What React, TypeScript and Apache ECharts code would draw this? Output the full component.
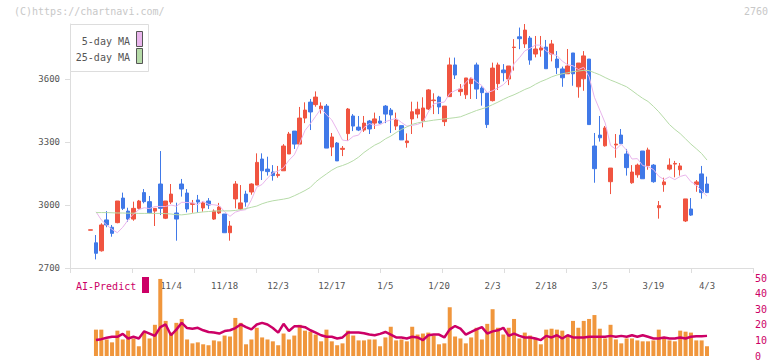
import React, { useEffect, useRef } from 'react';
import * as echarts from 'echarts';

// Candles (index 0 = first visible session, last = 4/3)
const opens = [
  2880, 2820, 2782, 2929, 2894, 2916, 3033, 2971, 2933, 2984,
  3059, 3016, 2971, 3100, 2937, 3014, 2962, 3100, 3057, 3003,
  3024, 2986, 3019, 2933, 2962, 2957, 2868, 3029, 2981, 3052,
  3062, 3095, 3219, 3171, 3157, 3140, 3163, 3243, 3352, 3290,
  3414, 3490, 3478, 3457, 3471, 3276, 3295, 3265, 3340, 3424,
  3371, 3357, 3400, 3390, 3400, 3471, 3452, 3376, 3378, 3297,
  3410, 3433, 3401, 3457, 3497, 3514, 3397, 3516, 3667, 3540,
  3525, 3578, 3667, 3557, 3533, 3497, 3578, 3643, 3600, 3750,
  3801, 3767, 3795, 3719, 3738, 3752, 3719, 3695, 3648, 3625,
  3724, 3563, 3601, 3695, 3281, 3333, 3282, 3111, 3286, 3333,
  3243, 3106, 3144, 3257, 3187, 3190, 2987, 3097, 3171, 3195,
  3168, 2924, 2981, 3097, 3148, 3100,
];
const closes = [
  2882, 2770, 2905, 2905, 2865, 3019, 2984, 2933, 2984, 3019,
  3016, 2963, 2984, 2984, 3019, 3052, 2933, 3076, 2981, 3008,
  3014, 3010, 3000, 2971, 2990, 2868, 2900, 3100, 3010, 3014,
  3100, 3203, 3163, 3159, 3140, 3146, 3281, 3338, 3290, 3414,
  3452, 3443, 3514, 3471, 3271, 3324, 3210, 3270, 3457, 3376,
  3357, 3390, 3362, 3410, 3390, 3433, 3429, 3405, 3310, 3305,
  3444, 3456, 3462, 3548, 3500, 3467, 3471, 3667, 3619, 3552,
  3605, 3600, 3552, 3535, 3383, 3652, 3667, 3630, 3662, 3752,
  3792, 3833, 3690, 3743, 3748, 3649, 3767, 3654, 3606, 3662,
  3625, 3676, 3710, 3383, 3173, 3320, 3367, 3176, 3290, 3292,
  3178, 3157, 3190, 3125, 3262, 3111, 2997, 3110, 3190, 3198,
  3186, 3029, 2952, 3110, 3059, 3059,
];
const lows = [
  2880, 2741, 2778, 2894, 2849, 2913, 2976, 2920, 2925, 2979,
  3008, 2960, 2900, 2952, 2933, 3005, 2830, 3040, 2965, 2963,
  2963, 2968, 2981, 2929, 2957, 2868, 2830, 2984, 2976, 2992,
  3049, 3095, 3119, 3140, 3116, 3130, 3163, 3243, 3267, 3290,
  3390, 3357, 3468, 3435, 3271, 3233, 3210, 3233, 3306, 3352,
  3352, 3348, 3338, 3362, 3386, 3390, 3343, 3357, 3310, 3273,
  3338, 3413, 3370, 3452, 3433, 3433, 3376, 3516, 3600, 3520,
  3505, 3505, 3505, 3473, 3367, 3493, 3548, 3589, 3571, 3640,
  3742, 3748, 3668, 3703, 3706, 3649, 3684, 3624, 3563, 3625,
  3568, 3511, 3544, 3383, 3106, 3302, 3278, 3052, 3225, 3292,
  3140, 3101, 3130, 3125, 3168, 3106, 2935, 3063, 3165, 3132,
  3140, 2919, 2948, 3063, 3030, 3059,
];
const highs = [
  2882, 2857, 2913, 2971, 2905, 3019, 3059, 2987, 3016, 3024,
  3076, 3043, 2984, 3257, 3019, 3100, 3011, 3124, 3076, 3024,
  3048, 3019, 3033, 2979, 3010, 2957, 2924, 3114, 3095, 3068,
  3103, 3246, 3246, 3230, 3190, 3186, 3290, 3348, 3352, 3467,
  3489, 3505, 3541, 3489, 3481, 3343, 3300, 3281, 3462, 3433,
  3424, 3424, 3405, 3440, 3424, 3476, 3462, 3440, 3378, 3341,
  3492, 3492, 3513, 3552, 3532, 3520, 3471, 3702, 3702, 3576,
  3605, 3608, 3678, 3565, 3533, 3678, 3678, 3671, 3662, 3790,
  3845, 3862, 3805, 3805, 3805, 3786, 3786, 3733, 3659, 3743,
  3724, 3676, 3733, 3695, 3343, 3424, 3376, 3176, 3338, 3362,
  3267, 3190, 3197, 3257, 3273, 3195, 3019, 3130, 3222, 3210,
  3200, 3029, 3033, 3119, 3186, 3135,
];

const ma5 = [
  null, 2968, 2929, 2905, 2884, 2868, 2894, 2929, 2957, 2978,
  2987, 2983, 2993, 2993, 2993, 3000, 2994, 3013, 3012, 3010,
  3002, 3018, 3003, 3001, 2997, 2968, 2946, 2966, 2974, 2978,
  3025, 3085, 3098, 3128, 3153, 3162, 3178, 3213, 3239, 3294,
  3355, 3387, 3423, 3459, 3430, 3405, 3358, 3309, 3306, 3327,
  3333, 3369, 3388, 3379, 3382, 3397, 3405, 3413, 3393, 3376,
  3379, 3384, 3395, 3443, 3482, 3487, 3490, 3531, 3545, 3555,
  3583, 3609, 3586, 3569, 3535, 3544, 3558, 3573, 3599, 3673,
  3701, 3734, 3746, 3762, 3761, 3733, 3719, 3712, 3685, 3668,
  3663, 3645, 3656, 3611, 3513, 3452, 3391, 3284, 3265, 3289,
  3261, 3219, 3221, 3188, 3182, 3169, 3137, 3121, 3134, 3121,
  3136, 3143, 3111, 3095, 3067, 3042,
];
const ma25 = [
  null, 2964, 2964, 2964, 2963, 2962, 2962, 2961, 2961, 2960,
  2960, 2960, 2960, 2960, 2959, 2957, 2954, 2953, 2956, 2960,
  2964, 2967, 2969, 2971, 2972, 2972, 2972, 2974, 2978, 2983,
  2989, 2995, 3006, 3014, 3020, 3024, 3028, 3033, 3044, 3056,
  3069, 3084, 3110, 3130, 3148, 3166, 3180, 3188, 3198, 3211,
  3228, 3250, 3268, 3285, 3297, 3315, 3328, 3345, 3360, 3372,
  3384, 3391, 3396, 3400, 3404, 3407, 3410, 3413, 3416, 3420,
  3430, 3440, 3450, 3458, 3466, 3478, 3490, 3503, 3515, 3525,
  3537, 3550, 3560, 3575, 3588, 3598, 3610, 3619, 3625, 3630,
  3635, 3638, 3641, 3640, 3630, 3620, 3607, 3595, 3585, 3574,
  3563, 3545, 3526, 3508, 3493, 3470, 3444, 3414, 3383, 3360,
  3340, 3315, 3290, 3268, 3245, 3214,
];

const volumes = [
  null, 16.9, 16.9, 10.6, 8.75, 16.25, 10.6, 16.25, 11.25, 6.25,
  15, 11.25, 20, 49.4, 22.5, 15, 21.25, 23.75, 10.6, 8.1,
  8.75, 7.5, 6.9, 10, 9.4, 13.1, 12.5, 24.4, 21.25, 7.5,
  10.6, 18.1, 11.9, 10.6, 9.4, 6.9, 14.4, 10.6, 13.1, 20,
  16.25, 15.6, 13.75, 9.4, 16.9, 9.4, 6.9, 8.1, 16.25, 13.1,
  10, 10, 10.6, 10.6, 6.25, 11.9, 18.75, 10, 10.6, 9.4,
  18.75, 13.75, 14.4, 15, 13.1, 7.5, 8.1, 31.25, 12.5, 11.25,
  8.1, 11.9, 18.1, 10.6, 20.6, 30, 18.1, 13.75, 18.1, 23.75,
  11.25, 15, 13.1, 11.25, 7.5, 16.9, 17.5, 16.9, 16.25, 13.1,
  22.5, 18.1, 22.5, 23.75, 26.25, 17.5, 11.25, 20, 10.6, 8.1,
  11.25, 11.25, 10, 9.4, 9.4, 10, 16.9, 11.25, 10, 9.4,
  16.25, 15.6, 15, 10, 10, 6.25,
];
const aiPredict = [
  null, 10.2, 10.8, 11.7, 12.3, 12.3, 14.2, 11.25, 12.3, 11.25,
  15.8, 14.4, 12.9, 18.5, 20.2, 13.3, 16.9, 21.25, 17.9, 17.5,
  18.1, 16.5, 15.4, 15, 14.4, 16, 16.5, 17.9, 20.2, 18.5,
  17.1, 20.2, 21.25, 20.2, 17.9, 15, 20.6, 16, 19, 19,
  18.5, 16.5, 15, 13.3, 12.3, 12.3, 11.25, 11.9, 15, 15,
  15, 14.6, 13.75, 13.3, 14.2, 15.4, 13.75, 11.9, 11.9, 11.25,
  12.3, 11.9, 10.2, 13.3, 13.75, 13.75, 11.9, 17.1, 19.2, 17.5,
  13.75, 15.4, 17.1, 18.5, 14.4, 15.8, 16.5, 18.1, 12.9, 14.4,
  12.9, 11.9, 11.9, 11.25, 10.2, 12.9, 11.9, 13.3, 11.25, 13.3,
  11.9, 11.9, 11.9, 12.3, 12.3, 12.3, 12.3, 12.9, 12.3, 12.9,
  12.3, 13.3, 12.3, 13.3, 12.3, 11.25, 11.25, 11.9, 11.25, 11.25,
  11.9, 11.25, 12.3, 12.7, 12.7, 12.9,
];

const dateLabels = ['11/4', '11/18', '12/3', '12/17', '1/5', '1/20', '2/3', '2/18', '3/5', '3/19', '4/3'];
const dateLabelIdx = [15, 25, 35, 45, 55, 65, 75, 85, 95, 105, 115];
const priceTicks = [2700, 3000, 3300, 3600];
const volTicks = [0, 10, 20, 30, 40, 50];

const RED = '#f05440';
const BLUE = '#4079e8';
const PINK = '#e9b5ec';
const GREEN = '#b6dba8';
const ORANGE = '#f0963c';
const CRIMSON = '#cc0066';
const AXIS = '#dddddd';
const MONO = '"DejaVu Sans Mono", "Liberation Mono", monospace';

const X_MIN = -3.843;
const X_MAX = 123.58;

export default function App() {
  const ref = useRef<HTMLDivElement>(null);
  useEffect(() => {
    const chart = echarts.init(ref.current!, null, { renderer: 'svg' });
    const candles = opens.map((o, i) => [i, o, closes[i], lows[i], highs[i]]);
    const toPts = (arr: (number | null)[]) =>
      arr.map((v, i) => (v == null ? null : [i, v])).filter((p) => p != null);
    const option: any = {
      animation: false,
      backgroundColor: '#ffffff',
      grid: [
        { left: 70, right: 19, top: 24, bottom: 93 },
        { left: 70, right: 19, top: 278, bottom: 3 },
      ],
      xAxis: [
        {
          type: 'value', gridIndex: 0, position: 'bottom', min: X_MIN, max: X_MAX,
          axisLine: { show: false, onZero: false }, axisTick: { show: false }, splitLine: { show: false },
          axisLabel: {
            customValues: dateLabelIdx,
            formatter: (v: number) => {
              const k = dateLabelIdx.indexOf(Math.round(v));
              return k >= 0 ? dateLabels[k] : '';
            },
            color: '#555', fontSize: 9, fontFamily: MONO, margin: 13,
          },
        },
        {
          type: 'value', gridIndex: 0, position: 'bottom', min: 0, max: 11, interval: 1,
          axisLine: { show: true, onZero: false, lineStyle: { color: AXIS, width: 1 } },
          axisTick: { show: true, length: 5, lineStyle: { color: AXIS } },
          axisLabel: { show: false }, splitLine: { show: false },
        },
        {
          type: 'value', gridIndex: 1, min: X_MIN, max: X_MAX, show: false,
          axisLine: { onZero: false },
          splitLine: { show: false },
        },
      ],
      yAxis: [
        {
          type: 'value', gridIndex: 0, position: 'left', min: 2700, max: 3862, interval: 300,
          axisLine: { show: true, onZero: false, lineStyle: { color: AXIS } },
          axisTick: { show: true, length: 5, customValues: priceTicks, lineStyle: { color: AXIS } },
          axisLabel: {
            customValues: priceTicks,
            formatter: (v: number) => (priceTicks.indexOf(v) >= 0 ? String(v) : ''),
            color: '#555', fontSize: 9, fontFamily: MONO, margin: 10,
          },
          splitLine: { show: false },
        },
        {
          type: 'value', gridIndex: 1, position: 'right', min: 0, max: 50, interval: 10,
          axisLine: { show: false, onZero: false }, axisTick: { show: false }, splitLine: { show: false },
          axisLabel: {
            customValues: volTicks,
            color: CRIMSON, fontSize: 10, fontFamily: MONO, margin: 2,
          },
        },
      ],
      series: [
        {
          type: 'candlestick', xAxisIndex: 0, yAxisIndex: 0, data: candles,
          barWidth: 4,
          itemStyle: { color: RED, color0: BLUE, borderColor: RED, borderColor0: BLUE, borderWidth: 1 },
        },
        {
          type: 'line', xAxisIndex: 0, yAxisIndex: 0, data: toPts(ma5),
          showSymbol: false, lineStyle: { color: PINK, width: 1 }, z: 3,
        },
        {
          type: 'line', xAxisIndex: 0, yAxisIndex: 0, data: toPts(ma25),
          showSymbol: false, lineStyle: { color: GREEN, width: 1 }, z: 3,
        },
        {
          type: 'bar', xAxisIndex: 2, yAxisIndex: 1, data: toPts(volumes),
          barWidth: 4, itemStyle: { color: ORANGE },
        },
        {
          type: 'line', xAxisIndex: 2, yAxisIndex: 1, data: toPts(aiPredict),
          showSymbol: false, lineStyle: { color: CRIMSON, width: 2.5 }, z: 4,
        },
      ],
      graphic: [
        {
          type: 'text', left: 14, top: 6, z: 100,
          style: { text: '(C)https://chartnavi.com/', fill: '#c8c8c8', font: `10px ${MONO}` },
        },
        {
          type: 'text', right: 4, top: 6, z: 100,
          style: { text: '2760', fill: '#c8c8c8', font: `10px ${MONO}` },
        },
        {
          type: 'rect', z: 100, shape: { x: 70.5, y: 24.5, width: 78, height: 47 },
          style: { fill: '#ffffff', stroke: '#dddddd', lineWidth: 1 },
        },
        {
          type: 'text', z: 101, x: 130, y: 41,
          style: { text: '5-day MA', fill: '#555', font: `10px ${MONO}`, align: 'right', verticalAlign: 'middle' },
        },
        {
          type: 'text', z: 101, x: 130, y: 57,
          style: { text: '25-day MA', fill: '#555', font: `10px ${MONO}`, align: 'right', verticalAlign: 'middle' },
        },
        {
          type: 'rect', z: 101, shape: { x: 136.5, y: 31.5, width: 6, height: 15 },
          style: { fill: PINK, stroke: '#555', lineWidth: 1 },
        },
        {
          type: 'rect', z: 101, shape: { x: 136.5, y: 48.5, width: 6, height: 15 },
          style: { fill: GREEN, stroke: '#555', lineWidth: 1 },
        },
        {
          type: 'text', z: 101, x: 76, y: 286,
          style: { text: 'AI-Predict', fill: CRIMSON, font: `10px ${MONO}`, verticalAlign: 'middle' },
        },
        {
          type: 'rect', z: 101, shape: { x: 142, y: 277, width: 7, height: 16 },
          style: { fill: CRIMSON },
        },
      ],
    };
    chart.setOption(option);
    return () => chart.dispose();
  }, []);
  return (
    <div
      ref={ref}
      style={{ position: 'fixed', left: 0, top: 0, width: 772, height: 361, background: '#fff' }}
    />
  );
}
